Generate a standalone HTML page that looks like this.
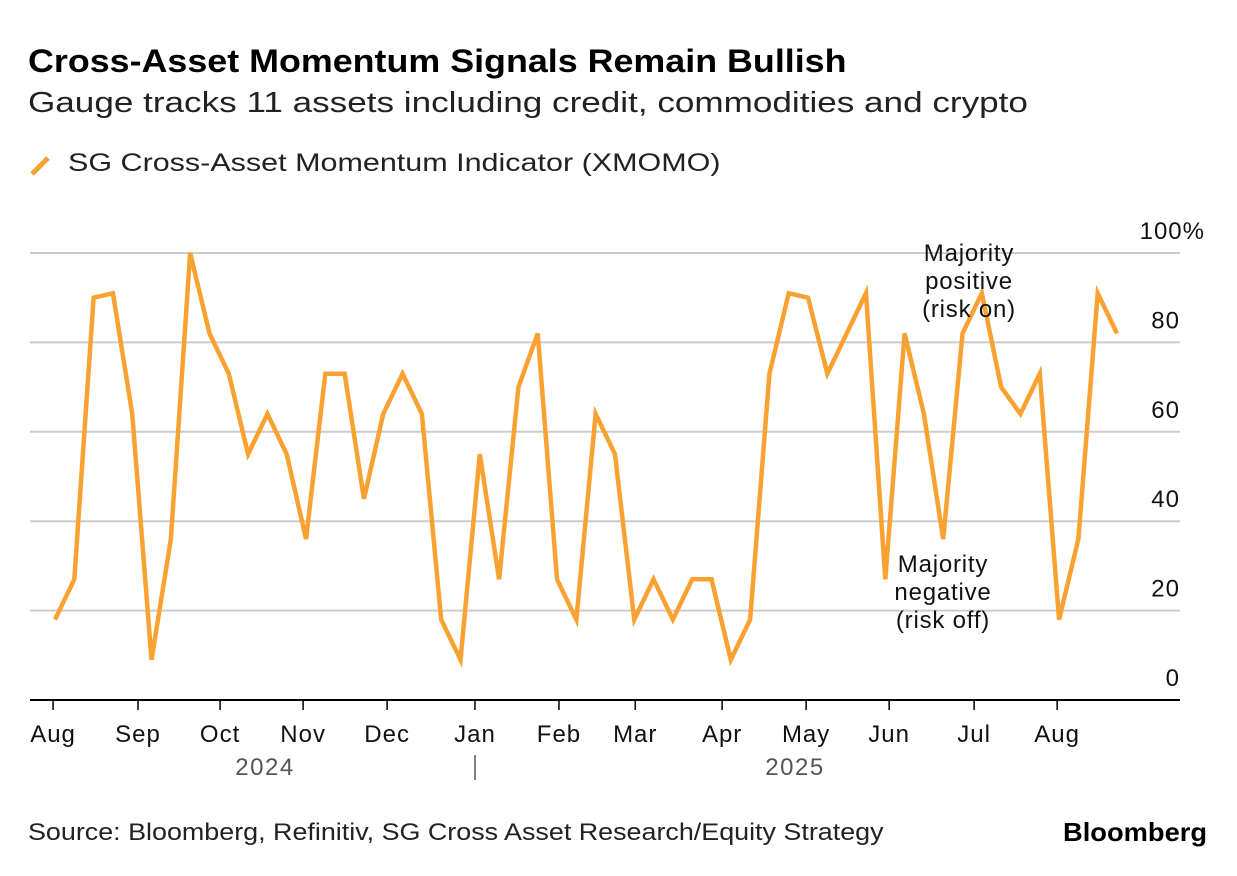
<!DOCTYPE html>
<html><head><meta charset="utf-8"><style>
body{margin:0;width:1237px;height:876px;background:#fff;font-family:"Liberation Sans",sans-serif;overflow:hidden;position:relative}
.t{position:absolute;color:#000;white-space:nowrap;transform-origin:0 0}
</style></head><body>
<div class="t" style="left:28px;top:43px;font-size:32px;font-weight:bold;transform:scaleX(1.12)">Cross-Asset Momentum Signals Remain Bullish</div>
<div class="t" style="left:28px;top:87px;font-size:29px;color:#222;transform:scaleX(1.21)">Gauge tracks 11 assets including credit, commodities and crypto</div>
<div style="position:absolute;left:28px;top:150px">
<svg width="30" height="30" style="position:absolute;left:0;top:0"><line x1="4" y1="24" x2="20" y2="8" stroke="#f9a232" stroke-width="5"/></svg>
<div class="t" style="left:40px;top:-1px;font-size:25px;color:#222;transform:scaleX(1.22)">SG Cross-Asset Momentum Indicator (XMOMO)</div>
</div>
<svg id="chart" width="1237" height="876" style="position:absolute;left:0;top:0" font-family="Liberation Sans, sans-serif"></svg>
<div class="t" style="left:28px;top:819px;font-size:24px;color:#222;transform:scaleX(1.12)">Source: Bloomberg, Refinitiv, SG Cross Asset Research/Equity Strategy</div>
<div class="t" style="left:1063px;top:817px;font-size:26px;font-weight:bold;transform:scaleX(1.05)">Bloomberg</div>
<script>
const values=[18,27,90,91,64,9,36,100,82,73,55,64,55,36,73,73,45,64,73,64,18,9,55,27,70,82,27,18,64,55,18,27,18,27,27,9,18,73,91,90,73,82,91,27,82,64,36,82,91,70,64,73,18,36,91,82];
const yTicks=[0,20,40,60,80,100];
const yTickLabels=["0","20","40","60","80","100%"];
const monthLabels=["Aug","Sep","Oct","Nov","Dec","Jan","Feb","Mar","Apr","May","Jun","Jul","Aug"];
const monthIdx=[-0.1,4.3,8.55,12.85,17.2,21.75,26.1,30.05,34.55,38.9,43.2,47.6,51.9];
const svg=document.getElementById('chart');const NS='http://www.w3.org/2000/svg';
const x0=55,x1=1117,yb=700,yt=253,left=30,right=1180;
const xs=i=>x0+(x1-x0)*i/(values.length-1);
const ys=v=>yb-(yb-yt)*v/100;
function mk(t,a){const e=document.createElementNS(NS,t);for(const k in a)e.setAttribute(k,a[k]);svg.appendChild(e);return e;}
yTicks.forEach((v,i)=>{
 if(v>0){const l=mk('line',{x1:left,x2:right,y1:ys(v),y2:ys(v),stroke:'#cccccc','stroke-width':2});
 
 }
 const t=mk('text',{x:v==100?1205:1180,y:ys(v)-14,'text-anchor':'end','font-size':24,'letter-spacing':'1',fill:'#111'});t.textContent=yTickLabels[i];
 
 
});
const ax=mk('line',{x1:left,x2:right,y1:yb,y2:yb,stroke:'#000','stroke-width':2});


monthLabels.forEach((m,i)=>{
 const x=xs(monthIdx[i]);
 const tk=mk('line',{x1:x,x2:x,y1:yb,y2:yb+10,stroke:'#000','stroke-width':1.5});
 
 
 const t=mk('text',{x:x,y:yb+42,'text-anchor':'middle','font-size':24,'letter-spacing':'1',fill:'#111'});t.textContent=m;
 
 
});
[["2024",265],["2025",795]].forEach(([s,x])=>{const t=mk('text',{x:x,y:775,'text-anchor':'middle','font-size':24,fill:'#555','letter-spacing':'1.5'});t.textContent=s;
 
 });
const sep=mk('line',{x1:475,x2:475,y1:755,y2:780,stroke:'#555','stroke-width':1.5});


const p=mk('polyline',{points:values.map((v,i)=>xs(i)+','+ys(v)).join(' '),fill:'none',stroke:'#f9a232','stroke-width':4.5,'stroke-linejoin':'miter'});


function anno(lines,x,y,name){lines.forEach((s,i)=>{const t=mk('text',{x:x,y:y+i*28,'text-anchor':'middle','font-size':24,'letter-spacing':'0.8',fill:'#111'});t.textContent=s;
 
 });}
anno(["Majority","positive","(risk on)"],969,261,'annotation-risk-on');
anno(["Majority","negative","(risk off)"],943,572,'annotation-risk-off');
</script>
</body></html>
